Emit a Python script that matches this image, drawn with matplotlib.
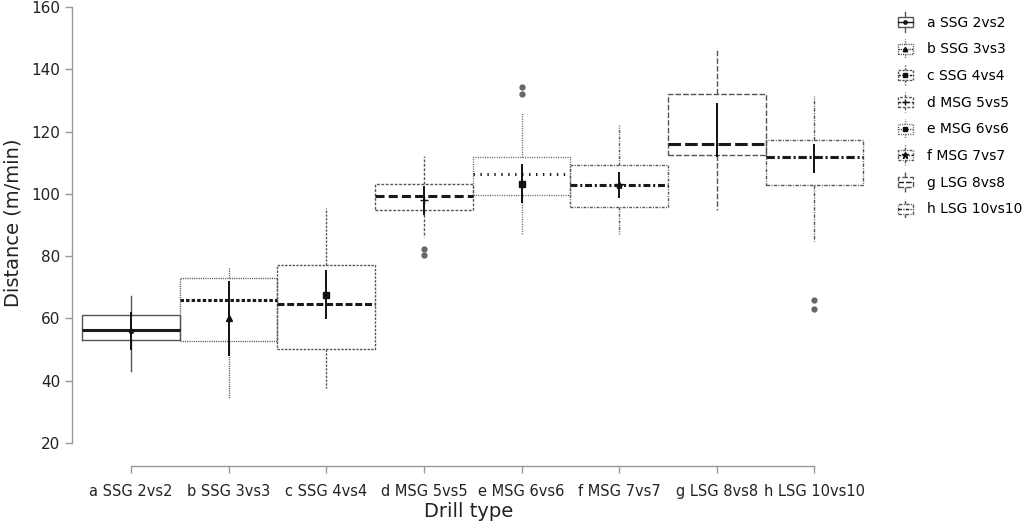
import matplotlib
matplotlib.use("Agg")
import matplotlib.pyplot as plt
from matplotlib.legend_handler import HandlerBase
from matplotlib.patches import Rectangle
from matplotlib.lines import Line2D

plt.rcParams['font.family'] = ['DejaVu Sans']
plt.rcParams['lines.scale_dashes'] = False

# ---------------- data ----------------
categories = ["a SSG 2vs2", "b SSG 3vs3", "c SSG 4vs4", "d MSG 5vs5",
              "e MSG 6vs6", "f MSG 7vs7", "g LSG 8vs8", "h LSG 10vs10"]
q1_vals = [53.0, 52.6, 50.2, 94.9, 99.7, 95.8, 112.6, 102.9]
median_vals = [56.3, 65.9, 64.7, 99.3, 106.3, 102.8, 116.0, 111.9]
q3_vals = [61.0, 73.1, 77.2, 103.3, 111.7, 109.4, 132.2, 117.2]
whisker_lo = [43.1, 34.5, 37.6, 86.2, 86.7, 87.1, 94.7, 85.0]
whisker_hi = [67.2, 76.1, 95.4, 112.2, 125.9, 122.1, 146.7, 131.5]
outliers = [[], [], [], [82.2, 80.3], [134.2, 132.2], [], [], [66.0, 62.9]]
mean_vals = [56.0, 60.0, 67.6, 97.9, 103.3, 102.8, 120.6, 111.3]
mean_err = [6.0, 12.0, 7.9, 4.7, 6.3, 4.1, 8.7, 4.7]
y_ticks = [20, 40, 60, 80, 100, 120, 140, 160]

# ---------------- styles ----------------
box_ls = ['-', (0, (0.8, 0.8)), (0, (1.7, 1.0)), (0, (2.0, 1.2)),
          (0, (0.7, 1.0)), (0, (2.0, 1.0, 0.7, 1.0)), (0, (4.0, 1.5)),
          (0, (2.5, 1.0, 0.7, 1.0))]
med_ls = ['-', (0, (2.5, 1.5)), (0, (5, 2)), (0, (6.5, 3)), (0, (1, 4)),
          (0, (5, 2, 1.5, 2)), (0, (9, 3)), (0, (6, 2, 1.5, 2))]
markers = ['o', '^', 's', '+', 's', '*', None, None]
marker_sizes = [3, 4, 4, 6, 4, 6, 0, 0]
box_color = '#555555'
med_color = '#1a1a1a'

fig = plt.figure(figsize=(10.26, 5.27), dpi=100)
ax = fig.add_axes([72 / 1026, 1 - 466 / 527, (873 - 72) / 1026, (466 - 7) / 527])

for i in range(len(categories)):
    stats = [dict(med=median_vals[i], q1=q1_vals[i], q3=q3_vals[i],
                  whislo=whisker_lo[i], whishi=whisker_hi[i],
                  fliers=outliers[i], label=categories[i])]
    ax.bxp(stats, positions=[i], widths=1.0, showcaps=False, patch_artist=False,
           boxprops=dict(color=box_color, linewidth=1.0, linestyle=box_ls[i]),
           whiskerprops=dict(color=box_color, linewidth=1.0, linestyle=box_ls[i]),
           medianprops=dict(color=med_color, linewidth=2.2, linestyle=med_ls[i]),
           flierprops=dict(marker='o', markersize=3.5, markerfacecolor='#666666',
                           markeredgecolor='#666666', linestyle='none'),
           manage_ticks=False)
    ax.errorbar([i], [mean_vals[i]], yerr=[mean_err[i]], fmt='none',
                ecolor='#111111', elinewidth=1.4, capsize=0, zorder=4)
    if markers[i] is not None:
        ax.plot([i], [mean_vals[i]], marker=markers[i], markersize=marker_sizes[i],
                color='#111111', markeredgewidth=1.0, linestyle='none', zorder=5)

ax.set_xlim(-0.604, 7.6)
ax.set_ylim(12.6, 160)
ax.set_xticks(range(len(categories)))
ax.set_xticklabels(categories, fontsize=10.5)
ax.set_yticks(y_ticks)
ax.set_yticklabels([str(t) for t in y_ticks], fontsize=11)
for s in ['top', 'right']:
    ax.spines[s].set_visible(False)
ax.spines['left'].set_bounds(20, 160)
ax.spines['bottom'].set_bounds(0, 7)
for s in ['left', 'bottom']:
    ax.spines[s].set_color('#999999')
    ax.spines[s].set_linewidth(1.0)
ax.tick_params(axis='both', colors='#999999', labelcolor='#222222', length=5, width=1)
ax.tick_params(axis='x', pad=8)
ax.set_xlabel("Drill type", fontsize=14, color='#222222')
ax.set_ylabel("Distance (m/min)", fontsize=14, color='#222222', labelpad=6)
ax.xaxis.set_label_coords(0.495, -0.078)
ax.yaxis.label.set_y(0.53)


# ---------------- legend with mini boxplot glyphs ----------------
class BoxHandler(HandlerBase):
    def __init__(self, idx):
        super().__init__()
        self.idx = idx

    def create_artists(self, legend, orig_handle, xdescent, ydescent, width,
                       height, fontsize, trans):
        i = self.idx
        x0 = -xdescent
        cx = x0 + width / 2
        bh = height * 0.6
        by = -ydescent + (height - bh) / 2
        arts = []
        r = Rectangle((x0, by), width, bh, fill=False,
                      edgecolor=box_color, linewidth=1.0, linestyle=box_ls[i],
                      transform=trans)
        arts.append(r)
        arts.append(Line2D([cx, cx], [by + bh, by + bh + height * 0.28],
                           color=box_color, lw=1.0, linestyle=box_ls[i], transform=trans))
        arts.append(Line2D([cx, cx], [by, by - height * 0.28],
                           color=box_color, lw=1.0, linestyle=box_ls[i], transform=trans))
        arts.append(Line2D([x0, x0 + width], [by + bh / 2, by + bh / 2],
                           color=med_color, lw=1.0, linestyle=box_ls[i],
                           transform=trans))
        if markers[i] is not None:
            arts.append(Line2D([cx], [by + bh / 2], marker=markers[i],
                               markersize=marker_sizes[i] * 0.8, color='#111111',
                               linestyle='none', transform=trans))
        return arts


handles = [Line2D([], []) for _ in categories]
handler_map = {h: BoxHandler(i) for i, h in enumerate(handles)}
fig.legend(handles, categories, handler_map=handler_map, loc='upper left',
           bbox_to_anchor=(885 / 1026, 1 - 1 / 527), frameon=False, fontsize=10,
           handlelength=1.15, handleheight=1.5, handletextpad=1.0, labelspacing=0.7)

fig.savefig("out.png", dpi=100)
